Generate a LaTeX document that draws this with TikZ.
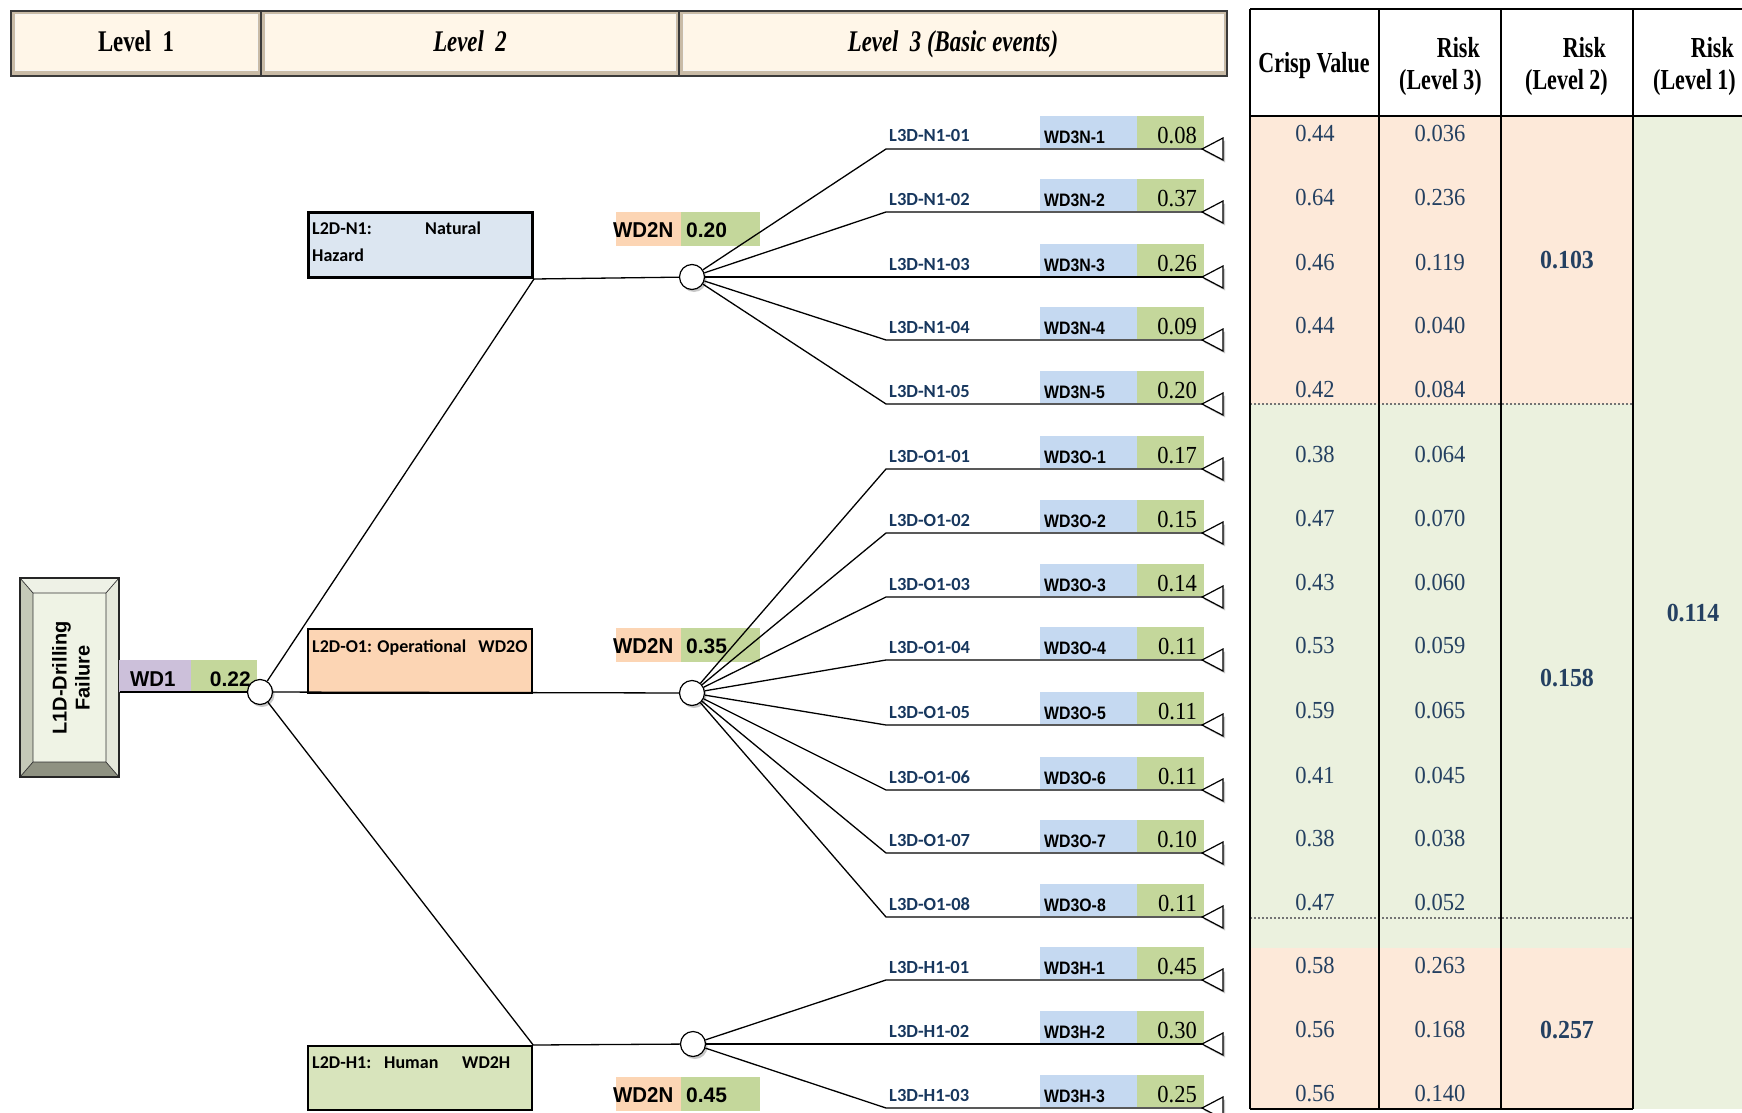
\documentclass[tikz,border=0pt]{standalone}
\usepackage{fontspec}
\setmainfont{Liberation Serif}
\newfontfamily\hdrf[FakeStretch=0.76]{Liberation Serif}
\newfontfamily\numf[FakeStretch=0.92]{Liberation Serif}
\newfontfamily\arialf{Liberation Sans}
\newfontfamily\arialn[FakeStretch=0.88]{Liberation Sans}
\newfontfamily\arialw[FakeStretch=0.95]{Liberation Sans}
\newfontfamily\calf{Carlito}
\usetikzlibrary{shadows}
\definecolor{hdrface}{HTML}{FFF6E8}
\definecolor{hdredge}{HTML}{C9BBA6}
\definecolor{hdrline}{HTML}{3A3A3A}
\definecolor{nblue}{HTML}{DCE6F1}
\definecolor{opeach}{HTML}{FCD5B4}
\definecolor{hgreen}{HTML}{D8E4BC}
\definecolor{wdpurple}{HTML}{CCC0DA}
\definecolor{valgreen}{HTML}{C4D79B}
\definecolor{wdblue}{HTML}{C5D9F1}
\definecolor{navy}{HTML}{17375E}
\definecolor{tabblue}{HTML}{244061}
\definecolor{salmon}{HTML}{FDE9D9}
\definecolor{lgreen}{HTML}{EBF1DE}
\definecolor{bevtop}{HTML}{EEF1E6}
\definecolor{bevleft}{HTML}{C5C9B8}
\definecolor{bevright}{HTML}{E6E9DC}
\definecolor{bevbot}{HTML}{8F9282}
\definecolor{bevface}{HTML}{EFF3E5}
\begin{document}
\begin{tikzpicture}[x=1pt,y=-1pt,
  hdrtext/.style={font=\hdrf\bfseries\fontsize{30}{32}\selectfont, inner sep=0, anchor=base},
  thtext/.style={font=\hdrf\bfseries\fontsize{29}{32}\selectfont, inner sep=0},
  l3lab/.style={font=\calf\bfseries\fontsize{18.5}{20}\selectfont, text=navy, inner sep=0, anchor=base west},
  wd3/.style={font=\arialn\bfseries\fontsize{18}{20}\selectfont, inner sep=0, anchor=base west},
  val3/.style={font=\numf\fontsize{24.5}{26}\selectfont, inner sep=0, anchor=base east},
  tabnum/.style={font=\numf\fontsize{24.5}{26}\selectfont, text=tabblue, inner sep=0, anchor=base},
  tabbold/.style={font=\numf\bfseries\fontsize{26}{28}\selectfont, text=tabblue, inner sep=0, anchor=base},
  l2text/.style={font=\calf\bfseries\fontsize{18}{20}\selectfont, inner sep=0, anchor=base west},
  wdbig/.style={font=\arialw\bfseries\fontsize{21.5}{22}\selectfont, inner sep=0, anchor=base west},
  numbig/.style={font=\arialf\bfseries\fontsize{21}{22}\selectfont, inner sep=0},
  l2box/.style={draw=black, anchor=north west, inner sep=0},
  junc/.style={circle, draw=black, fill=white, minimum size=25pt, inner sep=0, line width=1.2pt,
    drop shadow={shadow xshift=2pt, shadow yshift=-2.5pt, opacity=0.3, fill=black!70}},
  conn/.style={draw=black, line width=1.3pt},
  tri/.style={draw=black, fill=white, line width=1.2pt, line join=miter,
    drop shadow={shadow xshift=2pt, shadow yshift=-2.5pt, opacity=0.3, fill=black!70}},
  tline/.style={draw=black, line width=2.2pt},
  dotsep/.style={draw=black!55, line width=2pt, dotted}
]
\useasboundingbox (0,0) rectangle (1742,1113);
\fill[white] (0,0) rectangle (1742,1113);

% ---------- header bars ----------
\foreach \xa/\xb/\nm/\txt in {11/261/hA/{Level\ \ 1}, 261/679/hB/{\itshape Level\ \ 2}, 679/1227/hC/{\itshape Level\ \ 3 (Basic events)}}{
  \fill[hdredge] (\xa,11) rectangle (\xb,76);
  \fill[hdrface] (\xa+4,14) rectangle (\xb-4,70);
  \draw[draw=white!85!hdredge, line width=0.8pt] (\xa+4,14) rectangle (\xb-4,70);
  \draw[draw=hdrline, line width=2pt] (\xa,11) rectangle (\xb,76);
  \node[hdrtext] (\nm) at ({(\xa+\xb)/2},52) {\txt};
}

% ---------- table ----------
\fill[salmon] (1250,116) rectangle (1633,404);
\fill[lgreen] (1250,404) rectangle (1633,948);
\fill[salmon] (1250,948) rectangle (1633,1109);
\fill[lgreen] (1633,116) rectangle (1742,1109);
\draw[dotsep] (1250,404) -- (1633,404);
\draw[dotsep] (1250,918) -- (1633,918);
\draw[tline] (1250,9) -- (1742,9);
\draw[tline] (1250,116) -- (1742,116);
\foreach \xx in {1250,1379,1501,1633}{
  \draw[tline] (\xx,9) -- (\xx,1109);
}
\draw[tline] (1250,1109) -- (1633,1109);
\node[thtext, anchor=base] (thA) at (1314,73) {Crisp Value};
\node[thtext, anchor=base east] (thB1) at (1480,58) {Risk};
\node[thtext, anchor=base east] (thB2) at (1482,90) {(Level 3)};
\node[thtext, anchor=base east] (thC1) at (1606,58) {Risk};
\node[thtext, anchor=base east] (thC2) at (1608,90) {(Level 2)};
\node[thtext, anchor=base east] (thD1) at (1734,58) {Risk};
\node[thtext, anchor=base east] (thD2) at (1736,90) {(Level 1)};
\node[tabbold] (r2N) at (1567,268) {0.103};
\node[tabbold] (r2O) at (1567,686) {0.158};
\node[tabbold] (r2H) at (1567,1038) {0.257};
\node[tabbold] (r1) at (1693,621) {0.114};

% ---------- level 1 box ----------
\fill[bevtop] (20,578) -- (119,578) -- (106,593) -- (33,593) -- cycle;
\fill[bevleft] (20,578) -- (33,593) -- (33,762) -- (20,777) -- cycle;
\fill[bevright] (119,578) -- (106,593) -- (106,762) -- (119,777) -- cycle;
\fill[bevbot] (20,777) -- (33,762) -- (106,762) -- (119,777) -- cycle;
\fill[bevface] (33,593) rectangle (106,762);
\draw[black!80, line width=0.7pt] (33,593) rectangle (106,762)
  (20,578) -- (33,593) (119,578) -- (106,593) (20,777) -- (33,762) (119,777) -- (106,762);
\node[draw=black!85, line width=1.2pt, minimum width=99pt, minimum height=199pt, inner sep=0] (l1box) at (69.5,677.5) {};
\node[font=\arialf\bfseries\fontsize{20}{23}\selectfont, align=center, rotate=90, inner sep=0] (l1txt) at (71,678) {L1D-Drilling\\Failure};

% WD1 label
\fill[wdpurple] (119,660) rectangle (191,692);
\fill[valgreen] (191,660) rectangle (257,692);
\node[wdbig] (wd1) at (130,686) {WD1};
\node[numbig, anchor=base east] (wd1v) at (251,686) {0.22};

% ---------- level 2 boxes ----------
\node[l2box, fill=nblue, line width=3pt, minimum width=224pt, minimum height=65pt] (nbox) at (307,211) {};
\node[l2box, fill=opeach, line width=2.4pt, minimum width=224pt, minimum height=64pt] (obox) at (307,628) {};
\node[l2box, fill=hgreen, line width=2.2pt, minimum width=224pt, minimum height=64pt] (hbox) at (307,1045) {};
\node[l2text] (ntxt1) at (312,234) {\makebox[113pt][l]{L2D-N1:}Natural};
\node[l2text] (ntxt2) at (312,261) {Hazard};
\node[l2text] (otxt) at (312,652) {L2D-O1: Operational\ \ \ WD2O};
\node[l2text] (htxt) at (312,1068) {\makebox[72pt][l]{L2D-H1:}\makebox[78pt][l]{Human}WD2H};

% WD2N labels
\foreach \yt/\nm/\vv in {212/N/0.20, 628/O/0.35, 1077/H/0.45}{
  \fill[opeach] (616,\yt) rectangle (681,\yt+34);
  \fill[valgreen] (681,\yt) rectangle (760,\yt+34);
  \node[wdbig] (wd2\nm) at (613,\yt+25) {WD2N};
  \node[numbig, anchor=base west] (wd2v\nm) at (686,\yt+25) {\vv};
}

% ---------- junctions ----------
\node[junc] (cL1) at (260,692) {};
\node[junc] (cN) at (692,277) {};
\node[junc] (cO) at (692,693) {};
\node[junc] (cH) at (693,1044) {};

\draw[conn] (l1box.east |- cL1) -- (cL1);
\draw[conn] (cL1) -- (nbox.south east) -- (cN);
\draw[conn] (cL1) -- (cO);
\draw[conn] (cL1) -- (hbox.north east) -- (cH);

% ---------- level 3 rows ----------
\foreach \i/\y/\lab/\wdn/\val/\crv/\rkv/\g in {
  1/149/L3D-N1-01/WD3N-1/0.08/0.44/0.036/N,
  2/212/L3D-N1-02/WD3N-2/0.37/0.64/0.236/N,
  3/277/L3D-N1-03/WD3N-3/0.26/0.46/0.119/N,
  4/340/L3D-N1-04/WD3N-4/0.09/0.44/0.040/N,
  5/404/L3D-N1-05/WD3N-5/0.20/0.42/0.084/N,
  6/469/L3D-O1-01/WD3O-1/0.17/0.38/0.064/O,
  7/533/L3D-O1-02/WD3O-2/0.15/0.47/0.070/O,
  8/597/L3D-O1-03/WD3O-3/0.14/0.43/0.060/O,
  9/660/L3D-O1-04/WD3O-4/0.11/0.53/0.059/O,
  10/725/L3D-O1-05/WD3O-5/0.11/0.59/0.065/O,
  11/790/L3D-O1-06/WD3O-6/0.11/0.41/0.045/O,
  12/853/L3D-O1-07/WD3O-7/0.10/0.38/0.038/O,
  13/917/L3D-O1-08/WD3O-8/0.11/0.47/0.052/O,
  14/980/L3D-H1-01/WD3H-1/0.45/0.58/0.263/H,
  15/1044/L3D-H1-02/WD3H-2/0.30/0.56/0.168/H,
  16/1108/L3D-H1-03/WD3H-3/0.25/0.56/0.140/H}{
  \coordinate (s\i) at (886,\y);
  \coordinate (t\i) at (1202,\y);
  \fill[wdblue] (1040,\y-33) rectangle (1137,\y-1);
  \fill[valgreen] (1137,\y-33) rectangle (1204,\y-1);
  \node[l3lab] (lab\i) at (889,\y-7) {\lab};
  \node[wd3] (wdl\i) at (1044,\y-6) {\wdn};
  \node[val3] (v\i) at (1197,\y-6) {\val};
  \draw[conn] (c\g) -- (s\i) -- (t\i);
  \draw[tri] (t\i) -- ++(21,-11) -- ++(0,22) -- cycle;
  \node[tabnum] (crn\i) at (1315,\y-7) {\crv};
  \node[tabnum] (rkn\i) at (1440,\y-7) {\rkv};
}
\end{tikzpicture}
\end{document}
